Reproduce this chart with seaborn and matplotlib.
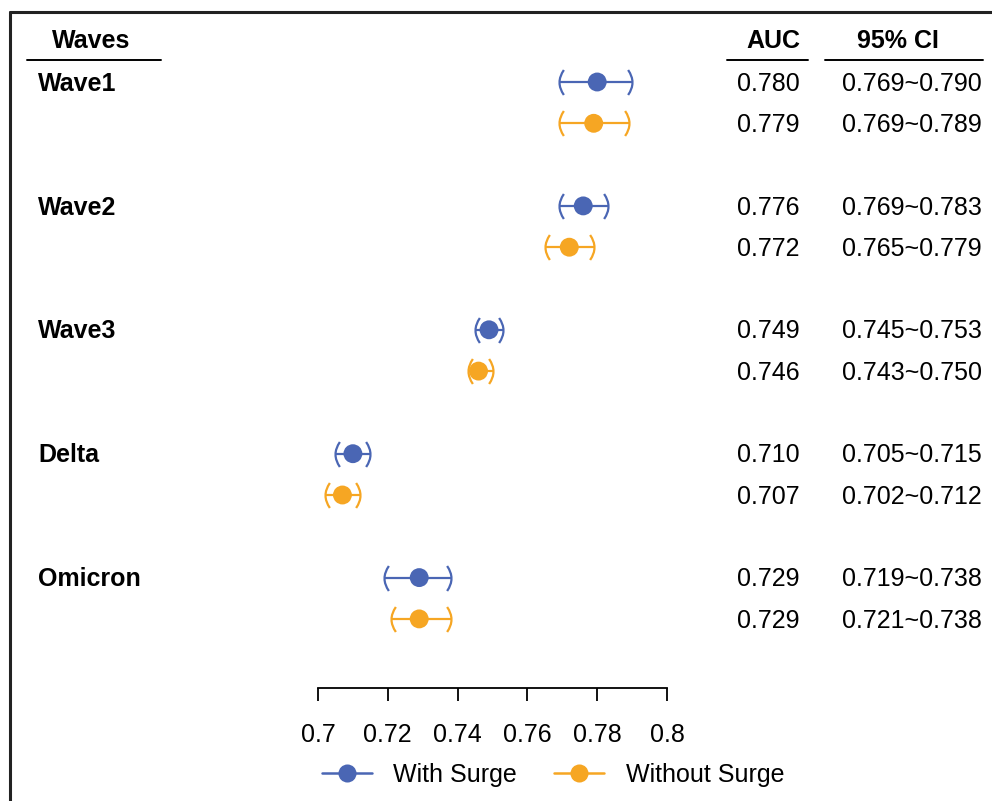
import numpy as np
import pandas as pd
import matplotlib
matplotlib.use("Agg")
import matplotlib.pyplot as plt
from matplotlib.path import Path
from matplotlib.lines import Line2D
import seaborn as sns

# ---- data ----
waves = ["Wave1", "Wave2", "Wave3", "Delta", "Omicron"]
auc_with = [0.780, 0.776, 0.749, 0.710, 0.729]
lo_with = [0.769, 0.769, 0.745, 0.705, 0.719]
hi_with = [0.790, 0.783, 0.753, 0.715, 0.738]
auc_without = [0.779, 0.772, 0.746, 0.707, 0.729]
lo_without = [0.769, 0.765, 0.743, 0.702, 0.721]
hi_without = [0.789, 0.779, 0.750, 0.712, 0.738]
series_names = ["With Surge", "Without Surge"]
x_ticks = [0.70, 0.72, 0.74, 0.76, 0.78, 0.80]
x_tick_labels = ["0.7", "0.72", "0.74", "0.76", "0.78", "0.8"]

colors = {"With Surge": "#4A66B4", "Without Surge": "#F6A623"}

sns.set_theme(style="white")
plt.rcParams["font.family"] = ["Liberation Sans", "DejaVu Sans"]
plt.rcParams["text.color"] = "black"
plt.rcParams["xtick.color"] = "black"
plt.rcParams["xtick.labelcolor"] = "black"
FS = 18

rows = []
for i, w in enumerate(waves):
    rows.append(dict(wave=w, series="With Surge", auc=auc_with[i],
                     lo=lo_with[i], hi=hi_with[i], pos=3 * i))
    rows.append(dict(wave=w, series="Without Surge", auc=auc_without[i],
                     lo=lo_without[i], hi=hi_without[i], pos=3 * i + 1))
df = pd.DataFrame(rows)

W, H = 992, 801
fig = plt.figure(figsize=(W / 100, H / 100), dpi=100)

# axes spans x 0.7..0.8 horizontally; rows are spaced ~41.3 px apart
row_px = 41.3
y0_px = 82
ax_left, ax_right = 318, 667
ax_top_px, ax_bot_px = 20, 688
ax = fig.add_axes([ax_left / W, 1 - ax_bot_px / H,
                   (ax_right - ax_left) / W, (ax_bot_px - ax_top_px) / H])
ax.set_xlim(0.70, 0.80)
ax.set_ylim((ax_bot_px - y0_px) / row_px, (ax_top_px - y0_px) / row_px)

# bracket-shaped caps
left_cap = Path([(0.35, -1), (-0.35, 0), (0.35, 1)],
                [Path.MOVETO, Path.CURVE3, Path.CURVE3])
right_cap = Path([(-0.35, -1), (0.35, 0), (-0.35, 1)],
                 [Path.MOVETO, Path.CURVE3, Path.CURVE3])

for _, r in df.iterrows():
    c = colors[r.series]
    ax.hlines(r.pos, r.lo, r.hi, color=c, lw=1.6, zorder=2)
    ax.plot([r.lo], [r.pos], marker=left_cap, ms=18, mfc="none", mec=c,
            mew=1.6, ls="none", zorder=2)
    ax.plot([r.hi], [r.pos], marker=right_cap, ms=18, mfc="none", mec=c,
            mew=1.6, ls="none", zorder=2)

sns.scatterplot(data=df, x="auc", y="pos", hue="series", palette=colors,
                s=185, edgecolor="none", legend=False, ax=ax, zorder=3)

for s in ["top", "right", "left"]:
    ax.spines[s].set_visible(False)
ax.spines["bottom"].set_color("black")
ax.spines["bottom"].set_linewidth(1.3)
ax.set_yticks([])
ax.set_xticks(x_ticks)
ax.set_xticklabels(x_tick_labels, fontsize=FS)
ax.tick_params(axis="x", direction="out", length=9, width=1.3,
               color="black", pad=16, bottom=True)
ax.set_xlabel("")
ax.set_ylabel("")

# table columns, in figure pixels horizontally, row units vertically
def fx(px):
    return px / W

header_y = (41 - y0_px) / row_px
tr = matplotlib.transforms.blended_transform_factory(fig.transFigure, ax.transData)
ax.text(fx(91), header_y, "Waves", transform=tr, ha="center", va="center",
        fontsize=FS, fontweight="bold", clip_on=False)
ax.text(fx(773), header_y, "AUC", transform=tr, ha="center", va="center",
        fontsize=FS, fontweight="bold", clip_on=False)
ax.text(fx(898), header_y, "95% CI", transform=tr, ha="center", va="center",
        fontsize=FS, fontweight="bold", clip_on=False)

for (a, b) in [(27, 161), (727, 808), (825, 983)]:
    fig.add_artist(Line2D([fx(a), fx(b)], [1 - 60 / H, 1 - 60 / H],
                          color="black", lw=1.4))

for i, w in enumerate(waves):
    ax.text(fx(38), 3 * i + 0.04, w, transform=tr, ha="left", va="center",
            fontsize=FS, fontweight="bold", clip_on=False)

for _, r in df.iterrows():
    ax.text(fx(800), r.pos + 0.04, f"{r.auc:.3f}", transform=tr, ha="right",
            va="center", fontsize=FS, clip_on=False)
    ax.text(fx(982), r.pos + 0.04, f"{r.lo:.3f}~{r.hi:.3f}", transform=tr,
            ha="right", va="center", fontsize=FS, clip_on=False)

# outer frame (top and left edges)
fig.add_artist(Line2D([fx(10), 1.0], [1 - 12 / H, 1 - 12 / H],
                      color="#222222", lw=2.2))
fig.add_artist(Line2D([fx(10), fx(10)], [1 - 12 / H, 0.0],
                      color="#222222", lw=2.2))

handles = [Line2D([0], [0], color=colors[n], lw=1.8, marker="o", ms=13,
                  mec="none") for n in series_names]
fig.legend(handles, series_names, loc="center", ncol=2, frameon=False,
           bbox_to_anchor=(fx(553), 1 - 775 / H), fontsize=FS,
           handlelength=2.0, columnspacing=1.5, handletextpad=0.85)

fig.savefig("out.png", dpi=100, facecolor="white")
